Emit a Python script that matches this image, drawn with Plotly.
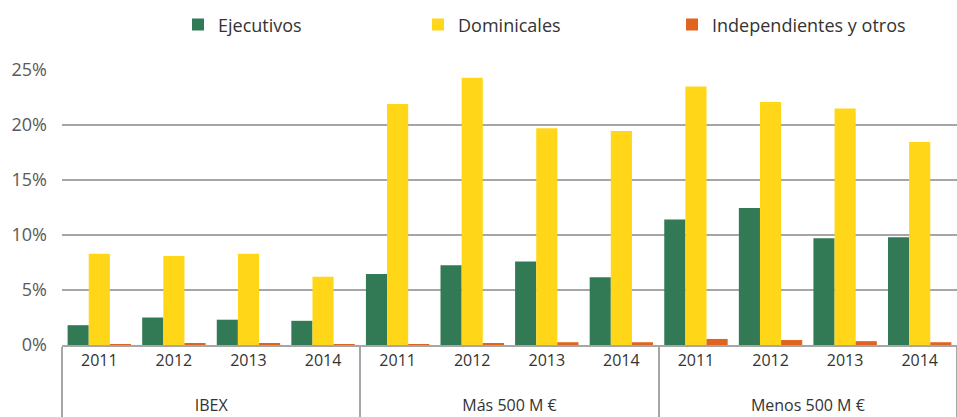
import plotly.graph_objects as go

groups = ["<br>IBEX"] * 4 + ["<br>Más 500 M €"] * 4 + ["<br>Menos 500 M €"] * 4
years = ["2011", "2012", "2013", "2014"] * 3

ejecutivos = [1.8, 2.5, 2.3, 2.2, 6.45, 7.25, 7.6, 6.15, 11.4, 12.45, 9.7, 9.8]
dominicales = [8.3, 8.1, 8.3, 6.2, 21.9, 24.3, 19.7, 19.45, 23.5, 22.1, 21.5, 18.45]
independientes = [0.05, 0.15, 0.15, 0.05, 0.05, 0.15, 0.25, 0.25, 0.55, 0.45, 0.35, 0.25]

series_names = ["Ejecutivos", "Dominicales", "Independientes y otros"]
colors = ["#317A55", "#FFD618", "#E0631E"]
legend_ids = ["legend", "legend2", "legend3"]
legend_x = [0.1296, 0.3978, 0.6816]

fig = go.Figure()
for name, vals, col, lid in zip(series_names, [ejecutivos, dominicales, independientes],
                                colors, legend_ids):
    fig.add_trace(go.Bar(x=[groups, years], y=vals, name=name, marker_color=col,
                         marker_line_width=0, legend=lid))

legend_common = dict(orientation="h", xanchor="left", y=1.164, yanchor="middle",
                     font=dict(size=18, color="#333333"), itemwidth=30,
                     bgcolor="rgba(0,0,0,0)")
fig.update_layout(
    width=957, height=417,
    margin=dict(l=62, r=0, t=70, b=72, autoexpand=False),
    barmode="group", bargap=0.15, bargroupgap=0,
    plot_bgcolor="white", paper_bgcolor="white",
    font=dict(family="Open Sans", size=18, color="#333333"),
    legend=dict(x=legend_x[0], **legend_common),
    legend2=dict(x=legend_x[1], **legend_common),
    legend3=dict(x=legend_x[2], **legend_common),
    showlegend=True,
)
fig.update_yaxes(range=[0, 25], dtick=5, ticksuffix="%", showgrid=True,
                 gridcolor="#A6A6A6", gridwidth=1.5, zeroline=False,
                 showline=False, ticks="", tickfont=dict(size=18, color="#595959"),
                 ticklabelstandoff=14, automargin=False)
fig.update_xaxes(showline=True, linecolor="#A6A6A6", linewidth=1.5,
                 showdividers=True, dividercolor="#A6A6A6", dividerwidth=1.5,
                 ticks="", automargin=False,
                 tickfont=dict(size=16, color="#333333"))

fig.write_html("out.html", config={"displayModeBar": False},
               post_script="document.body.style.margin='0';")
